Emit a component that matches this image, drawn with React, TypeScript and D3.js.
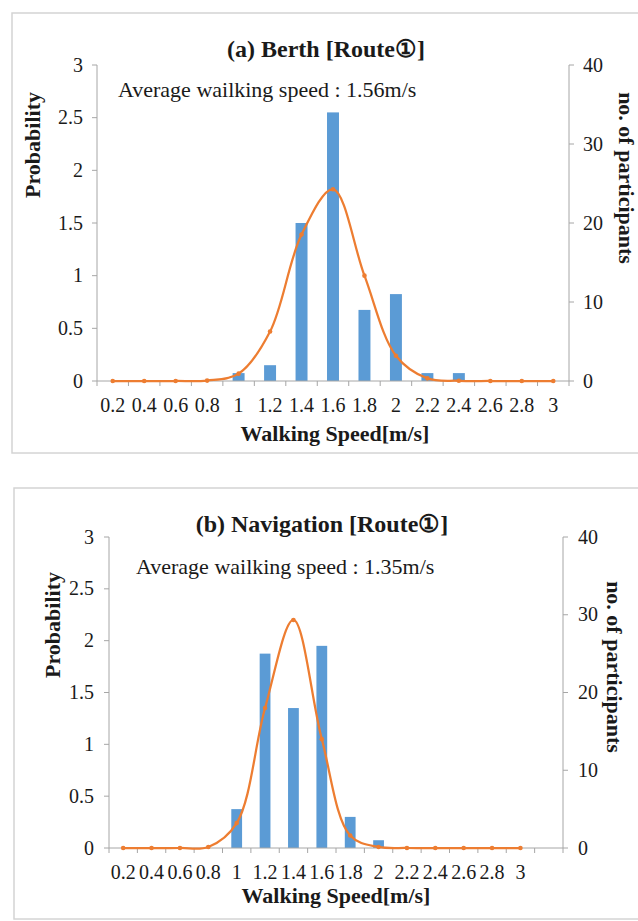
import React from "react";
import * as d3 from "d3";

// walking speed classes (m/s)
const speedCats = ["0.2", "0.4", "0.6", "0.8", "1", "1.2", "1.4", "1.6", "1.8", "2", "2.2", "2.4", "2.6", "2.8", "3"];
// panel (b) has one extra empty class at the right end
const navCats = [...speedCats, ""];

// (a) Berth - participants per class and fitted probability
const berthCounts = [0, 0, 0, 0, 1, 2, 20, 34, 9, 11, 1, 1, 0, 0, 0];
const berthProb = [0, 0, 0, 0.004, 0.07, 0.47, 1.39, 1.82, 1.0, 0.24, 0.025, 0.002, 0, 0, 0];

// (b) Navigation
const navCounts = [0, 0, 0, 0, 5, 25, 18, 26, 4, 1, 0, 0, 0, 0, 0];
const navProb = [0, 0, 0, 0.01, 0.24, 1.35, 2.2, 1.05, 0.12, 0.01, 0, 0, 0, 0, 0];

const probTicks = [0, 0.5, 1, 1.5, 2, 2.5, 3];
const countTicks = [0, 10, 20, 30, 40];

const BAR = "#5B9BD5";
const LINE = "#ED7D31";
const AXIS = "#a6a6a6";
const TEXT = "#1a1a1a";
const FONT = "Liberation Serif, Times New Roman, DejaVu Serif, serif";

const Panel = ({ cfg, cats, counts, prob, title, avg }) => {
  const x = d3
    .scaleBand()
    .domain(cats.map((c, i) => String(i)))
    .range([cfg.left, cfg.right])
    .paddingInner(0.62)
    .paddingOuter(0.31);
  const step = (cfg.right - cfg.left) / cats.length;
  const yP = d3.scaleLinear().domain([0, 3]).range([cfg.bottom, cfg.top]);
  const yC = d3.scaleLinear().domain([0, 40]).range([cfg.bottom, cfg.top]);

  const pts = prob.map((v, i) => [x(String(i)) + x.bandwidth() / 2, yP(v)]);
  const line = d3.line().curve(d3.curveCatmullRom.alpha(0.5))(pts);

  return (
    <g style={{ fontFamily: FONT }} fill={TEXT}>
      <rect x={cfg.bx} y={cfg.by} width={cfg.bw} height={cfg.bh} fill="#fff" stroke="#d4d4d4" strokeWidth={1.5} />

      {/* bars on count axis */}
      {counts.map((c, i) =>
        c > 0 ? (
          <rect key={i} x={x(String(i))} y={yC(c)} width={x.bandwidth()} height={yC(0) - yC(c)} fill={BAR} />
        ) : null
      )}

      {/* axes */}
      <line x1={cfg.left} x2={cfg.left} y1={cfg.top} y2={cfg.bottom} stroke={AXIS} />
      <line x1={cfg.right} x2={cfg.right} y1={cfg.top} y2={cfg.bottom} stroke={AXIS} />
      <line x1={cfg.left} x2={cfg.right} y1={cfg.bottom} y2={cfg.bottom} stroke={AXIS} />
      {d3.range(cats.length + 1).map((i) => (
        <line key={i} x1={cfg.left + i * step} x2={cfg.left + i * step} y1={cfg.bottom} y2={cfg.bottom + 5} stroke={AXIS} />
      ))}
      {probTicks.map((t) => (
        <g key={t}>
          <line x1={cfg.left - 5} x2={cfg.left} y1={yP(t)} y2={yP(t)} stroke={AXIS} />
          <text x={cfg.leftLab} y={yP(t)} dy="0.33em" textAnchor="end" fontSize={20}>
            {t}
          </text>
        </g>
      ))}
      {countTicks.map((t) => (
        <g key={t}>
          <line x1={cfg.right} x2={cfg.right + 5} y1={yC(t)} y2={yC(t)} stroke={AXIS} />
          <text x={cfg.rightLab} y={yC(t)} dy="0.33em" fontSize={20}>
            {t}
          </text>
        </g>
      ))}
      {cats.map((c, i) => (
        <text key={i} x={x(String(i)) + x.bandwidth() / 2} y={cfg.xLabY} textAnchor="middle" fontSize={20}>
          {c}
        </text>
      ))}

      {/* fitted probability curve */}
      <path d={line} fill="none" stroke={LINE} strokeWidth={2.25} />
      {pts.map((p, i) => (
        <circle key={i} cx={p[0]} cy={p[1]} r={2.3} fill={LINE} />
      ))}

      {/* titles */}
      <text x={cfg.titleX} y={cfg.titleY} textAnchor="middle" fontSize={24} fontWeight="bold">
        {title}
      </text>
      <text x={cfg.avgX} y={cfg.avgY} fontSize={22}>
        {avg}
      </text>
      <text x={cfg.xTitleX} y={cfg.xTitleY} textAnchor="middle" fontSize={22} fontWeight="bold">
        Walking Speed[m/s]
      </text>
      <text transform={`translate(${cfg.yTitleX},${cfg.yTitleY}) rotate(-90)`} textAnchor="middle" dy="0.35em" fontSize={22} fontWeight="bold">
        Probability
      </text>
      <text transform={`translate(${cfg.y2TitleX},${cfg.y2TitleY}) rotate(90)`} textAnchor="middle" dy="0.35em" fontSize={22} fontWeight="bold">
        no. of participants
      </text>
    </g>
  );
};

const cfgA = {
  bx: 12, by: 13, bw: 640, bh: 440,
  left: 97, right: 569, top: 65, bottom: 381,
  leftLab: 83, rightLab: 583, xLabY: 412,
  titleX: 326, titleY: 57, avgX: 118, avgY: 97,
  xTitleX: 335, xTitleY: 441,
  yTitleX: 32, yTitleY: 145, y2TitleX: 627, y2TitleY: 178,
};

const cfgB = {
  bx: 14, by: 488, bw: 640, bh: 431,
  left: 109, right: 563, top: 537, bottom: 848,
  leftLab: 94, rightLab: 578, xLabY: 879,
  titleX: 322, titleY: 532, avgX: 136, avgY: 574,
  xTitleX: 336, xTitleY: 903,
  yTitleX: 52, yTitleY: 625, y2TitleX: 615, y2TitleY: 667,
};

export default function App() {
  return (
    <svg width={638} height={921} style={{ position: "absolute", left: 0, top: 0, background: "#fff" }}>
      <Panel cfg={cfgA} cats={speedCats} counts={berthCounts} prob={berthProb} title="(a) Berth [Route①]" avg="Average wailking speed : 1.56m/s" />
      <Panel cfg={cfgB} cats={navCats} counts={navCounts} prob={navProb} title="(b) Navigation [Route①]" avg="Average wailking speed : 1.35m/s" />
    </svg>
  );
}
